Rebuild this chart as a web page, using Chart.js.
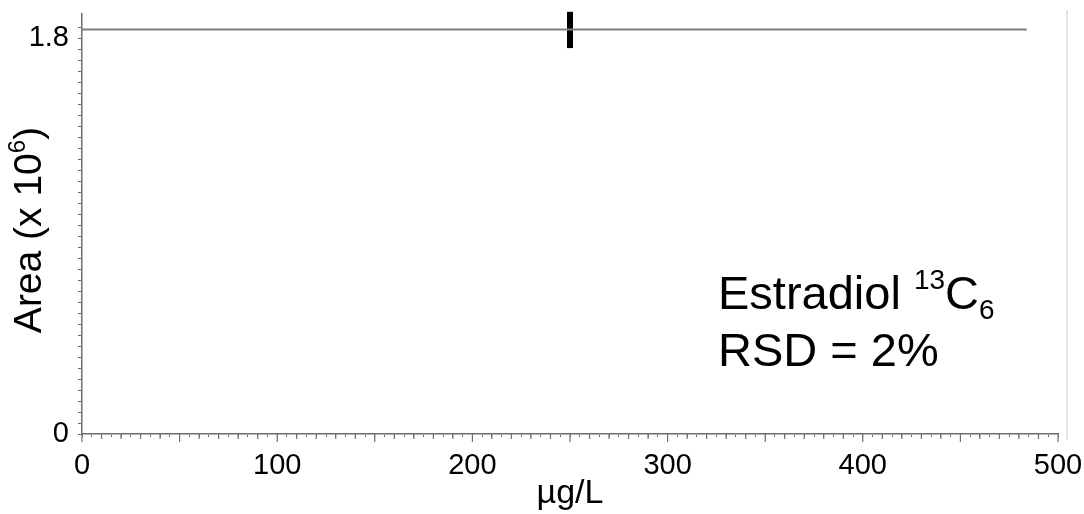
<!DOCTYPE html>
<html>
<head>
<meta charset="utf-8">
<script src="https://cdn.jsdelivr.net/npm/chart.js@4"></script>
<style>
  html, body { margin: 0; padding: 0; background: #fff; }
  #wrap { width: 1084px; height: 514px; }
</style>
</head>
<body>
<div id="wrap"><canvas id="chart" width="1084" height="514"></canvas></div>
<script>
// values
const lineX = [0, 484];
const lineY = [1.84, 1.84];
const errX = [250, 250];
const errY = [1.755, 1.92];
const xTickLabels = [0, 100, 200, 300, 400, 500];
const yTickLabels = [0, 1.8];

const FONT = 'Liberation Sans, Arial, sans-serif';
const AXIS = '#6e6e6e';

// draws a run of text pieces: [text, sizeFactor, baselineShift]
function richText(ctx, parts, size, x, y) {
  let cx = x;
  parts.forEach(p => {
    ctx.font = Math.round(size * p[1]) + 'px ' + FONT;
    ctx.fillText(p[0], cx, y + p[2] * size);
    cx += ctx.measureText(p[0]).width;
  });
  return cx - x;
}
function richWidth(ctx, parts, size) {
  let w = 0;
  parts.forEach(p => { ctx.font = Math.round(size * p[1]) + 'px ' + FONT; w += ctx.measureText(p[0]).width; });
  return w;
}

const decor = {
  id: 'decor',
  afterDraw(chart) {
    const ctx = chart.ctx, area = chart.chartArea, xs = chart.scales.x;
    ctx.save();
    // longer x ticks at every 10 and 50
    ctx.strokeStyle = AXIS;
    ctx.lineWidth = 1.2;
    xs.ticks.forEach(t => {
      const len = t.value % 50 === 0 ? 8 : (t.value % 10 === 0 ? 5 : 0);
      if (!len) return;
      const px = xs.getPixelForValue(t.value);
      ctx.beginPath(); ctx.moveTo(px, area.bottom); ctx.lineTo(px, area.bottom + len); ctx.stroke();
    });
    // faint frame line on the right
    ctx.strokeStyle = '#dcd8d0';
    ctx.lineWidth = 1.5;
    ctx.beginPath(); ctx.moveTo(area.right + 9, area.top - 4); ctx.lineTo(area.right + 9, area.bottom + 6); ctx.stroke();

    ctx.fillStyle = '#000';
    ctx.textBaseline = 'alphabetic';
    ctx.textAlign = 'left';
    // y axis title with superscript
    const ytitle = [['Area (x 10', 1, 0], ['6', 0.62, -0.42], [')', 1, 0]];
    const ysize = 39;
    const yw = richWidth(ctx, ytitle, ysize);
    ctx.save();
    ctx.translate(41, 230);
    ctx.rotate(-Math.PI / 2);
    richText(ctx, ytitle, ysize, -yw / 2, 0);
    ctx.restore();

    // annotation
    const asize = 47;
    const ax = area.left + 636;
    richText(ctx, [['Estradiol ', 1, 0], ['13', 0.6, -0.42], ['C', 1, 0], ['6', 0.6, 0.22]], asize, ax, area.top + 295);
    richText(ctx, [['RSD = 2%', 1, 0]], asize, ax, area.top + 352);
    ctx.restore();
  }
};

new Chart(document.getElementById('chart'), {
  type: 'line',
  data: {
    datasets: [
      {
        label: 'mean',
        data: lineX.map((x, i) => ({ x: x, y: lineY[i] })),
        borderColor: '#7f7f7f',
        borderWidth: 2,
        pointRadius: 0,
        clip: false
      },
      {
        label: 'error',
        data: errX.map((x, i) => ({ x: x, y: errY[i] })),
        borderColor: '#000',
        borderWidth: 6,
        borderCapStyle: 'butt',
        pointRadius: 0,
        clip: false
      }
    ]
  },
  options: {
    responsive: false,
    animation: false,
    layout: { padding: { top: 14, right: 26, left: 0, bottom: 0 } },
    plugins: { legend: { display: false }, tooltip: { enabled: false } },
    scales: {
      x: {
        type: 'linear',
        min: 0, max: 500,
        ticks: {
          stepSize: 5, autoSkip: false, maxRotation: 0,
          color: '#000', font: { family: FONT, size: 29 }, padding: 12,
          callback: v => xTickLabels.includes(v) ? String(v) : ''
        },
        grid: { drawOnChartArea: false, tickLength: 3, color: AXIS, lineWidth: 1 },
        border: { color: AXIS, width: 1.5 },
        title: { display: true, text: 'µg/L', color: '#000', font: { family: FONT, size: 34 }, padding: { top: 0, bottom: 0 } },
        afterFit: s => { s.height = 80; s.paddingLeft = 0; s.paddingRight = 0; }
      },
      y: {
        type: 'linear',
        min: 0, max: 1.91,
        afterBuildTicks: s => { s.ticks = s.ticks.filter(t => t.value <= 1.86); },
        ticks: {
          stepSize: 0.05, autoSkip: false,
          color: '#000', font: { family: FONT, size: 29 }, padding: 9,
          callback: v => yTickLabels.includes(v) ? String(v) : ''
        },
        grid: { drawOnChartArea: false, tickLength: 4, color: AXIS, lineWidth: 1 },
        border: { color: AXIS, width: 1.5 },
        afterFit: s => { s.width = 82; s.paddingTop = 0; s.paddingBottom = 0; }
      }
    }
  },
  plugins: [decor]
});
</script>
</body>
</html>
